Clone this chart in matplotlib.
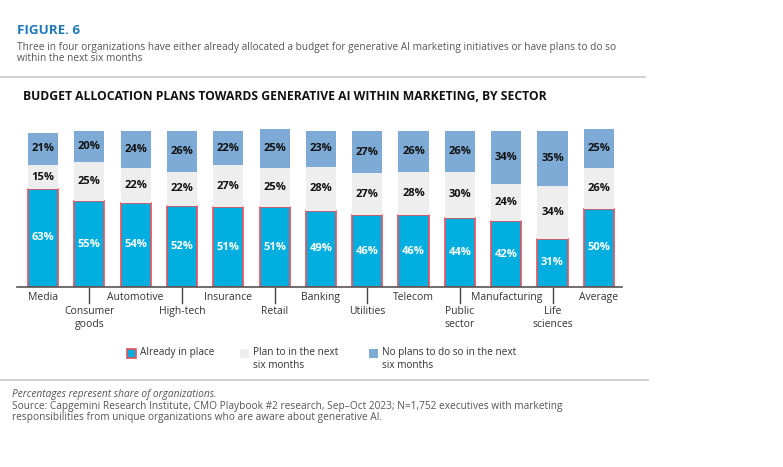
import matplotlib.pyplot as plt
import matplotlib.transforms as mtransforms
from matplotlib.patches import Rectangle
from matplotlib.lines import Line2D

plt.rcParams['font.family'] = ['Open Sans', 'DejaVu Sans']

sectors = ["Media", "Consumer\ngoods", "Automotive", "High-tech", "Insurance",
           "Retail", "Banking", "Utilities", "Telecom", "Public\nsector",
           "Manufacturing", "Life\nsciences", "Average"]
already = [63, 55, 54, 52, 51, 51, 49, 46, 46, 44, 42, 31, 50]
plan = [15, 25, 22, 22, 27, 25, 28, 27, 28, 30, 24, 34, 26]
no_plans = [21, 20, 24, 26, 22, 25, 23, 27, 26, 26, 34, 35, 25]

legend_labels = ["Already in place", "Plan to in the next\nsix months",
                 "No plans to do so in the next\nsix months"]

c_blue = "#00aedf"
c_red = "#e8505b"
c_grey = "#eeeeee"
c_top = "#7eaad6"

W, H = 783, 467
fig = plt.figure(figsize=(W / 100, H / 100), dpi=100)

def fx(px):
    return px / W

def fy(py):
    return 1 - py / H

# chart area (baseline at y=287 px, 100% = 156 px)
scale = 1.56
ax_h = 105 * scale
ax = fig.add_axes([fx(17), fy(287), fx(622 - 17), ax_h / H])
ax.set_xlim(-0.56, 12.5)
ax.set_ylim(0, 105)
ax.axis("off")

x = list(range(len(sectors)))
bw = 0.65
bottom2 = [a + p for a, p in zip(already, plan)]
ax.bar(x, already, width=bw, color=c_blue, edgecolor=c_red, linewidth=1.2)
ax.bar(x, plan, width=bw, bottom=already, color=c_grey, linewidth=0)
ax.bar(x, no_plans, width=bw, bottom=bottom2, color=c_top, linewidth=0)

for i in x:
    ax.text(i, already[i] / 2, f"{already[i]}%", ha="center", va="center",
            color="white", fontsize=8, fontweight="bold")
    ax.text(i, already[i] + plan[i] / 2, f"{plan[i]}%", ha="center", va="center",
            color="#111111", fontsize=8, fontweight="bold")
    ax.text(i, bottom2[i] + no_plans[i] / 2, f"{no_plans[i]}%", ha="center",
            va="center", color="#111111", fontsize=8, fontweight="bold")

ax.axhline(0, color="#555555", linewidth=1.2, clip_on=False)

# category labels, alternating rows
tr = mtransforms.blended_transform_factory(ax.transData, fig.transFigure)
for i, name in enumerate(sectors):
    if i % 2 == 0:
        ax.text(i, fy(292), name, transform=tr, ha="center", va="top",
                fontsize=7.5, color="#333333")
    else:
        ax.add_line(Line2D([i, i], [fy(288), fy(303)], transform=tr,
                           color="#444444", linewidth=1, clip_on=False))
        ax.text(i, fy(306), name, transform=tr, ha="center", va="top",
                fontsize=7.5, color="#333333", linespacing=1.2)

# header
fig.text(fx(17), fy(31), "FIGURE. 6", color="#1f78b9", fontsize=9.6,
         fontweight="bold", va="center")
fig.text(fx(17), fy(53), "Three in four organizations have either already allocated a budget "
         "for generative AI marketing initiatives or have plans to do so\nwithin the next six months",
         color="#555555", fontsize=7.3, va="center", linespacing=1.0)
fig.add_artist(Line2D([0, fx(645)], [fy(77), fy(77)], color="#c8c8c8", linewidth=1.2))
fig.text(fx(23), fy(96), "BUDGET ALLOCATION PLANS TOWARDS GENERATIVE AI WITHIN MARKETING, BY SECTOR",
         color="#111111", fontsize=8.7, fontweight="bold", va="center")

# legend
leg_x = [127, 240, 369]
leg_cols = [c_blue, c_grey, c_top]
for lx, col, lab, k in zip(leg_x, leg_cols, legend_labels, range(3)):
    ec = c_red if k == 0 else col
    fig.add_artist(Rectangle((fx(lx), fy(358)), fx(9), 9 / H, facecolor=col,
                             edgecolor=ec, linewidth=1.2 if k == 0 else 0))
    fig.text(fx(lx + 13), fy(347), lab, fontsize=7.2, color="#333333",
             va="top", linespacing=1.2)

# footer
fig.add_artist(Line2D([0, fx(648)], [fy(380), fy(380)], color="#c8c8c8", linewidth=1.2))
fig.text(fx(12), fy(394), "Percentages represent share of organizations.",
         fontsize=7.3, color="#555555", style="italic", va="center")
fig.text(fx(12), fy(412), "Source: Capgemini Research Institute, CMO Playbook #2 research, "
         "Sep\u2013Oct 2023; N=1,752 executives with marketing\nresponsibilities from unique "
         "organizations who are aware about generative AI.",
         fontsize=7.3, color="#555555", va="center", linespacing=1.0)

fig.savefig("out.png", dpi=100)
